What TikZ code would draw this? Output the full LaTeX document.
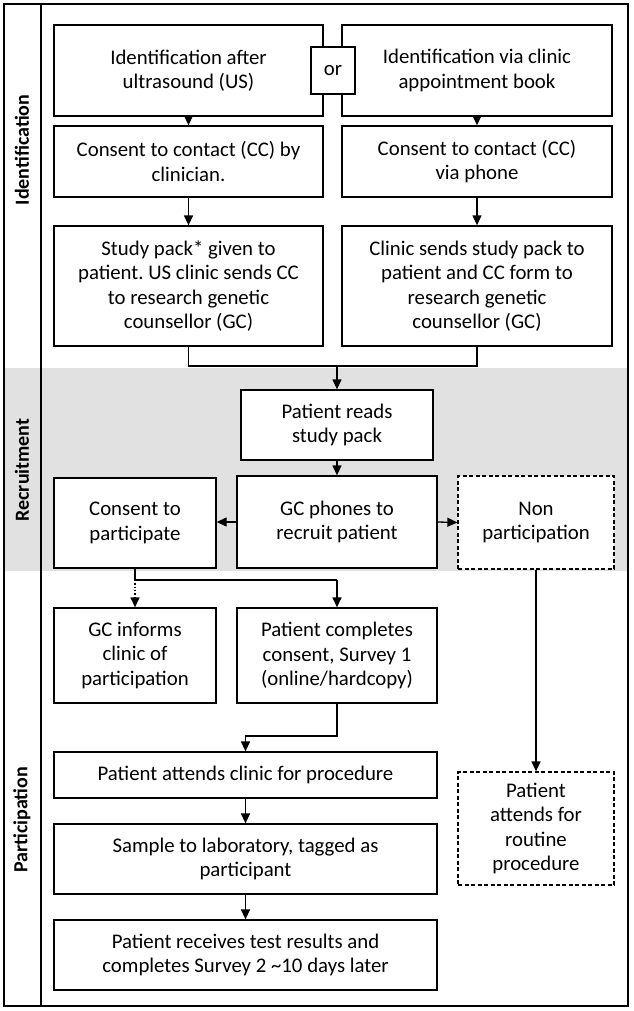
\documentclass[tikz,border=0pt]{standalone}
\usepackage{fontspec}
\setmainfont{Carlito}
\usetikzlibrary{arrows.meta}
\definecolor{bandgray}{RGB}{225,225,225}
\frenchspacing
\begin{document}
\begin{tikzpicture}[x=1pt,y={(0pt,-1pt)},
  box/.style={draw=black, line width=1.3pt, fill=white, rectangle, align=center, inner sep=2pt,
    font=\fontsize{20.8}{24.5}\selectfont},
  dbox/.style={box, dashed, dash pattern=on 4pt off 2.5pt},
  lab/.style={rotate=90, font=\fontsize{20}{24}\selectfont\bfseries},
  arr/.style={line width=1.3pt, -{Triangle[length=10pt,width=9pt]}},
  ln/.style={line width=1.3pt}]
\useasboundingbox (0,0) rectangle (633,1011);
% band
\fill[bandgray] (4,368) rectangle (628,571);
% frame
\draw[line width=2pt] (4,4) rectangle (628,1006);
\draw[line width=1.5pt] (41,4) -- (41,1006);
% labels
\node[lab] (lid) at (22,150) {Identification};
\node[lab] (lrc) at (22,470) {Recruitment};
\node[lab] (lpa) at (22,820) {Participation};
% nodes
\node[box, minimum width=269pt, minimum height=91pt] (tl) at (188.5,70.5) {Identification after\\ultrasound (US)};
\node[box, minimum width=270pt, minimum height=91pt] (tr) at (477,70.5) {Identification via clinic\\appointment book};
\node[box, minimum width=44pt, minimum height=47pt, inner sep=0pt] (or) at (333,70.5) {or};
\node[box, minimum width=269pt, minimum height=71pt] (r2l) at (188.5,161.5) {Consent to contact (CC) by\\clinician.};
\node[box, minimum width=270pt, minimum height=71pt] (r2r) at (477,161.5) {Consent to contact (CC)\\via phone};
\node[box, minimum width=269pt, minimum height=120pt] (r3l) at (188.5,286) {Study pack* given to\\patient. US clinic sends CC\\to research genetic\\counsellor (GC)};
\node[box, minimum width=270pt, minimum height=120pt] (r3r) at (477,286) {Clinic sends study pack to\\patient and CC form to\\research genetic\\counsellor (GC)};
\node[box, minimum width=192pt, minimum height=70pt] (reads) at (337,425) {Patient reads\\study pack};
\node[box, minimum width=162pt, minimum height=90pt] (consent) at (135,523) {Consent to\\participate};
\node[box, minimum width=200pt, minimum height=92pt] (phones) at (337,522) {GC phones to\\recruit patient};
\node[dbox, minimum width=156pt, minimum height=93pt] (non) at (536,522.5) {Non\\participation};
\node[box, minimum width=162pt, minimum height=95pt] (informs) at (135,655.5) {GC informs\\clinic of\\participation};
\node[box, minimum width=200pt, minimum height=95pt] (completes) at (337,655.5) {Patient completes\\consent, Survey 1\\(online/hardcopy)};
\node[box, minimum width=383pt, minimum height=46pt] (attends) at (245.5,775) {Patient attends clinic for procedure};
\node[dbox, minimum width=156pt, minimum height=113pt] (routine) at (536,828.5) {Patient\\attends for\\routine\\procedure};
\node[box, minimum width=383pt, minimum height=70pt] (sample) at (245.5,859) {Sample to laboratory, tagged as\\participant};
\node[box, minimum width=383pt, minimum height=70pt] (results) at (245.5,955) {Patient receives test results and\\completes Survey 2 \textasciitilde10 days later};
% connectors
\draw[arr] (tl) -- (r2l);
\draw[arr] (tr) -- (r2r);
\draw[arr] (r2l) -- (r3l);
\draw[arr] (r2r) -- (r3r);
\coordinate (mj) at (337,366);
\draw[ln] (r3l.south) |- (mj);
\draw[ln] (r3r.south) |- (mj);
\draw[arr] (mj) -- (reads.north);
\draw[arr] (reads) -- (phones);
\draw[arr] (phones.west) -- (consent.east |- phones.west);
\draw[arr] (phones.east) -- (non.west);
\coordinate (sp) at (135,580);
\coordinate (sq) at (337,580);
\draw[ln] (consent.south) -- (sp) -- (sq);
\draw[arr, dotted] (sp) -- (informs.north);
\draw[arr] (sq) -- (completes.north);
\draw[arr] (non) -- (routine);
\coordinate (c1) at (245.5,736);
\draw[arr] (completes.south) |- (c1) -- (attends.north);
\draw[arr] (attends) -- (sample);
\draw[arr] (sample) -- (results);
\end{tikzpicture}
\end{document}
